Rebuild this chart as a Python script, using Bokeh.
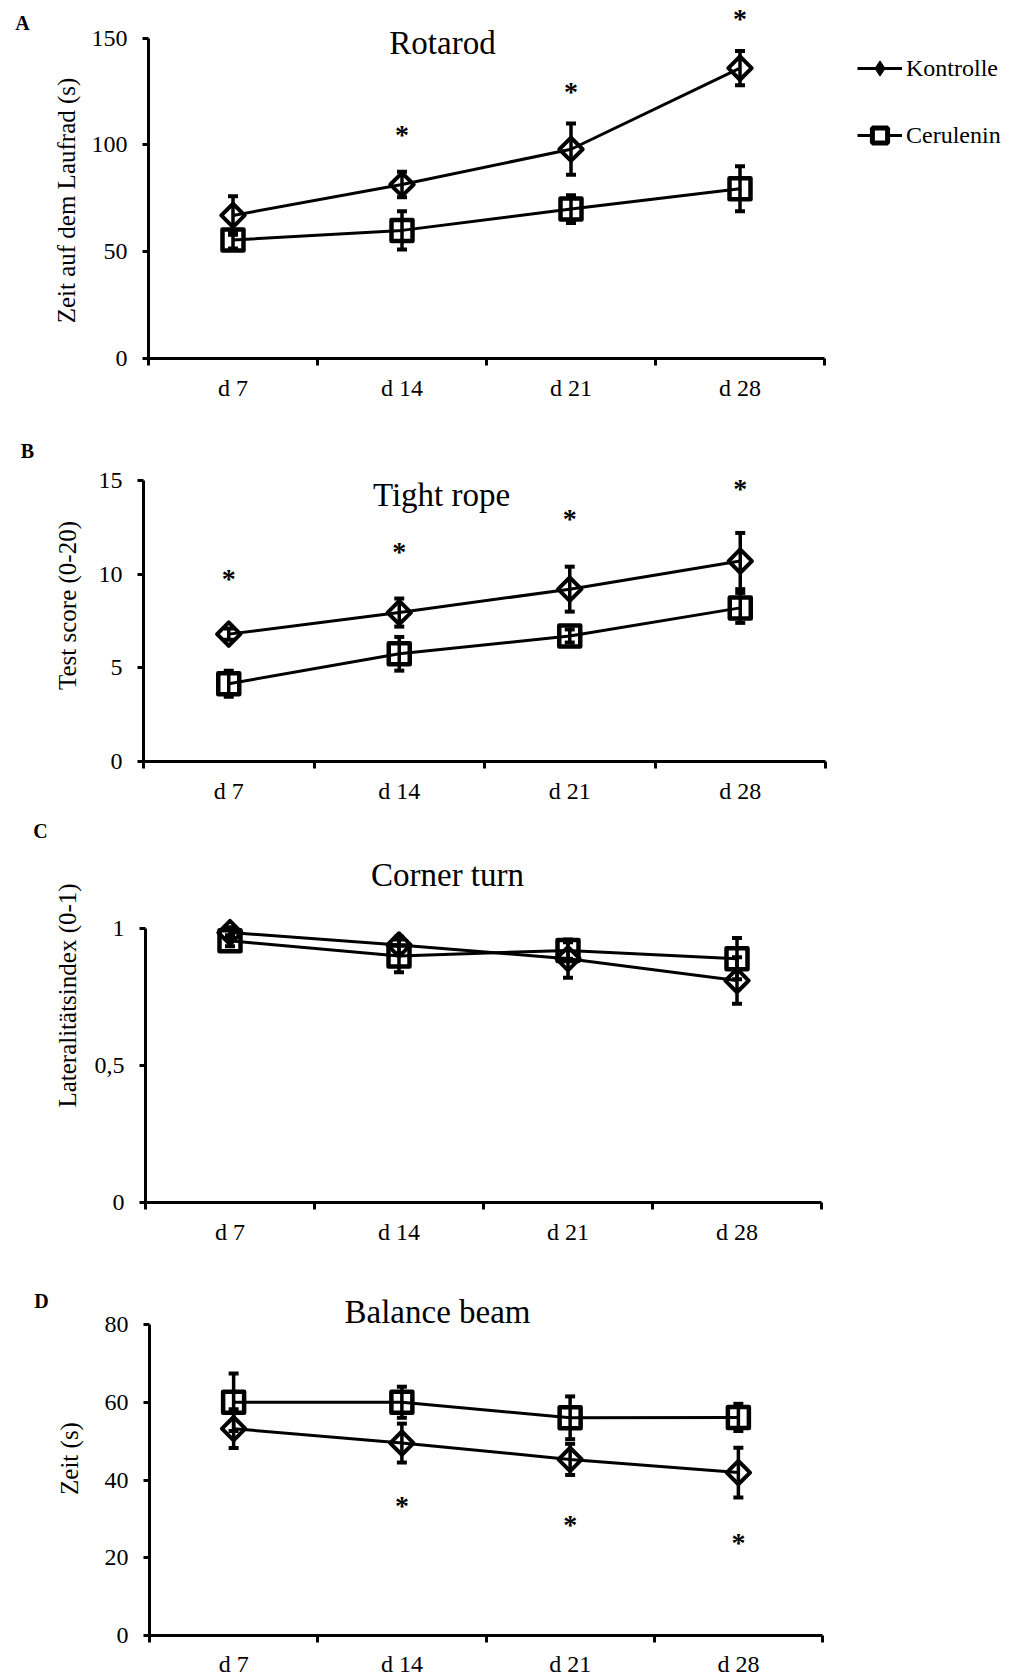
import math
from bokeh.plotting import figure
from bokeh.models import (FixedTicker, Range1d, ColumnDataSource, Whisker, TeeHead,
                          Label, Legend, LegendItem)
from bokeh.layouts import column
from bokeh.embed import file_html
from bokeh.resources import INLINE
from bokeh.core.properties import value

FONT = "Liberation Serif"

# ---------------- data ----------------
days = ["d 7", "d 14", "d 21", "d 28"]
day_pos = [1, 2, 3, 4]
boundaries = [0.5, 1.5, 2.5, 3.5, 4.5]
series_names = ["Kontrolle", "Cerulenin"]

# A  Rotarod
rot_kon = [67, 81.5, 98, 136]
rot_kon_err = [9, 6, 12, 8]
rot_cer = [55.5, 60, 70, 79.5]
rot_cer_err = [4, 9, 6.5, 10.5]
rot_sig_x = [2, 3, 4]
rot_sig_y = [106, 126, 160]
rot_yticks = [0, 50, 100, 150]
rot_ylabels = ["0", "50", "100", "150"]

# B  Tight rope
tr_kon = [6.8, 7.95, 9.2, 10.7]
tr_kon_err = [0.3, 0.75, 1.2, 1.5]
tr_cer = [4.15, 5.75, 6.7, 8.2]
tr_cer_err = [0.7, 0.9, 0.35, 0.8]
tr_sig_x = [1, 2, 3, 4]
tr_sig_y = [9.9, 11.3, 13.1, 14.7]
tr_yticks = [0, 5, 10, 15]
tr_ylabels = ["0", "5", "10", "15"]

# C  Corner turn
ct_kon = [0.985, 0.94, 0.89, 0.81]
ct_kon_err = [0.02, 0.03, 0.07, 0.085]
ct_cer = [0.955, 0.90, 0.92, 0.89]
ct_cer_err = [0.02, 0.06, 0.03, 0.075]
ct_sig_x = []
ct_sig_y = []
ct_yticks = [0, 0.5, 1]
ct_ylabels = ["0", "0,5", "1"]

# D  Balance beam
bb_kon = [53.2, 49.5, 45.3, 41.9]
bb_kon_err = [5, 5, 4, 6.4]
bb_cer = [60, 60, 56, 56.1]
bb_cer_err = [7.4, 4, 5.5, 3.5]
bb_sig_x = [2, 3, 4]
bb_sig_y = [34, 29, 24.4]
bb_yticks = [0, 20, 40, 60, 80]
bb_ylabels = ["0", "20", "40", "60", "80"]

# ---------------- layout (page pixels) ----------------
PAGE_W = 1016
LAY_A = dict(top=0, h=405, xl=148, xr=824, y0=358, ytop=37.7, xstand=9,
             letter=(22, 22), title=(442, 42), ylab=(66, 200))
LAY_B = dict(top=405, h=405, xl=143, xr=825, y0=761, ytop=480, xstand=9,
             letter=(27, 450), title=(441, 494), ylab=(67, 605))
LAY_C = dict(top=810, h=440, xl=145, xr=821, y0=1202, ytop=928, xstand=9,
             letter=(40, 830), title=(447, 874), ylab=(67, 995))
LAY_D = dict(top=1250, h=426, xl=149, xr=822, y0=1635, ytop=1324, xstand=8,
             letter=(41, 1300), title=(437, 1311), ylab=(69, 1458))


def make_panel(L, kon, kon_err, cer, cer_err, sig_x, sig_y, yticks, ylabels,
               title, letter, ylab, legend=False):
    cw = (L["xr"] - L["xl"]) / 4.0
    k = (L["y0"] - L["ytop"]) / yticks[-1]

    def fx(px):
        return 0.5 + (px - L["xl"]) / cw

    def fy(py):
        return (L["y0"] - py) / k

    p = figure(width=PAGE_W, height=L["h"],
               x_range=Range1d(fx(0), fx(PAGE_W)),
               y_range=Range1d(fy(L["top"] + L["h"]), fy(L["top"])),
               output_backend="svg", toolbar_location=None, title=None,
               min_border_left=0, min_border_right=0,
               min_border_top=0, min_border_bottom=0)
    p.outline_line_color = None
    p.xgrid.visible = False
    p.ygrid.visible = False

    xa = p.xaxis[0]
    xa.fixed_location = 0
    xa.ticker = FixedTicker(ticks=day_pos, minor_ticks=boundaries)
    xa.major_label_overrides = {pos: d for pos, d in zip(day_pos, days)}
    xa.bounds = (0.5, 4.5)
    xa.major_tick_line_color = None
    xa.major_tick_out = 0
    xa.major_tick_in = 0
    xa.minor_tick_out = 7
    xa.minor_tick_in = 0
    xa.minor_tick_line_width = 3
    xa.minor_tick_line_color = "black"
    xa.axis_line_width = 3
    xa.axis_line_color = "black"
    xa.major_label_standoff = L["xstand"]
    xa.major_label_text_font = FONT
    xa.major_label_text_font_size = "24px"
    xa.major_label_text_color = "black"

    ya = p.yaxis[0]
    ya.fixed_location = 0.5
    ya.ticker = FixedTicker(ticks=yticks)
    ya.bounds = (0, yticks[-1])
    ya.major_label_overrides = {t: s for t, s in zip(yticks, ylabels)}
    ya.major_tick_out = 6
    ya.major_tick_in = 0
    ya.major_tick_line_width = 3
    ya.major_tick_line_color = "black"
    ya.minor_tick_line_color = None
    ya.axis_line_width = 3
    ya.axis_line_color = "black"
    ya.major_label_standoff = 15
    ya.major_label_text_font = FONT
    ya.major_label_text_font_size = "24px"
    ya.major_label_text_color = "black"

    src_k = ColumnDataSource(dict(x=day_pos, y=kon,
                                  lo=[m - e for m, e in zip(kon, kon_err)],
                                  hi=[m + e for m, e in zip(kon, kon_err)]))
    src_c = ColumnDataSource(dict(x=day_pos, y=cer,
                                  lo=[m - e for m, e in zip(cer, cer_err)],
                                  hi=[m + e for m, e in zip(cer, cer_err)]))

    line_k = p.line("x", "y", source=src_k, line_width=3, line_color="black")
    line_c = p.line("x", "y", source=src_c, line_width=3, line_color="black")

    for src in (src_c, src_k):
        w = Whisker(base="x", upper="hi", lower="lo", source=src, dimension="height",
                    line_width=3.5, line_color="black", level="glyph",
                    upper_head=TeeHead(size=10, line_width=4, line_color="black"),
                    lower_head=TeeHead(size=10, line_width=4, line_color="black"))
        p.add_layout(w)

    p.scatter("x", "y", source=src_c, marker="square", size=21, line_width=4.5,
              line_color="black", fill_color=None, line_join="round")
    p.scatter("x", "y", source=src_k, marker="square", angle=math.pi / 4, size=16.5,
              line_width=4, line_color="black", fill_color=None, line_join="round")

    if sig_x:
        src_s = ColumnDataSource(dict(x=sig_x, y=sig_y, t=["*"] * len(sig_x)))
        p.text("x", "y", text="t", source=src_s, text_font=value(FONT),
               text_font_size="28px", text_font_style="bold", text_align="center",
               text_baseline="middle", y_offset=2, text_color="black")

    lx, ly = L["letter"]
    p.add_layout(Label(x=fx(lx), y=fy(ly), text=letter, text_font=FONT,
                       text_font_size="20px", text_font_style="bold",
                       text_align="center", text_baseline="middle", text_color="black"))
    tx, ty = L["title"]
    p.add_layout(Label(x=fx(tx), y=fy(ty), text=title, text_font=FONT,
                       text_font_size="33px", text_align="center",
                       text_baseline="alphabetic", text_color="black"))
    vx, vy = L["ylab"]
    p.add_layout(Label(x=fx(vx), y=fy(vy), text=ylab, text_font=FONT,
                       text_font_size="25px", angle=math.pi / 2,
                       text_align="center", text_baseline="middle", text_color="black"))

    if legend:
        far_x = [fx(-500)]
        far_y = [fy(-500)]
        dk = p.scatter(far_x, far_y, marker="diamond", line_color="black",
                       fill_color="black", line_width=1)
        dc = p.scatter(far_x, far_y, marker="square", line_color="black",
                       fill_color="white", line_width=5)
        bottom_page = L["top"] + L["h"]
        leg = Legend(items=[LegendItem(label=series_names[0], renderers=[line_k, dk]),
                            LegendItem(label=series_names[1], renderers=[line_c, dc])],
                     location=(857, bottom_page - 154), orientation="vertical",
                     glyph_width=45, glyph_height=38, spacing=29, padding=0, margin=0,
                     border_line_color=None, background_fill_alpha=0,
                     label_text_font=FONT, label_text_font_size="24px",
                     label_standoff=4, label_text_color="black")
        p.add_layout(leg)
    return p


pA = make_panel(LAY_A, rot_kon, rot_kon_err, rot_cer, rot_cer_err, rot_sig_x, rot_sig_y,
                rot_yticks, rot_ylabels, "Rotarod", "A", "Zeit auf dem Laufrad (s)",
                legend=True)
pB = make_panel(LAY_B, tr_kon, tr_kon_err, tr_cer, tr_cer_err, tr_sig_x, tr_sig_y,
                tr_yticks, tr_ylabels, "Tight rope", "B", "Test score (0-20)")
pC = make_panel(LAY_C, ct_kon, ct_kon_err, ct_cer, ct_cer_err, ct_sig_x, ct_sig_y,
                ct_yticks, ct_ylabels, "Corner turn", "C", "Lateralitätsindex (0-1)")
pD = make_panel(LAY_D, bb_kon, bb_kon_err, bb_cer, bb_cer_err, bb_sig_x, bb_sig_y,
                bb_yticks, bb_ylabels, "Balance beam", "D", "Zeit (s)")

layout = column(pA, pB, pC, pD, spacing=0)
open("out.html", "w").write(file_html(layout, INLINE))
